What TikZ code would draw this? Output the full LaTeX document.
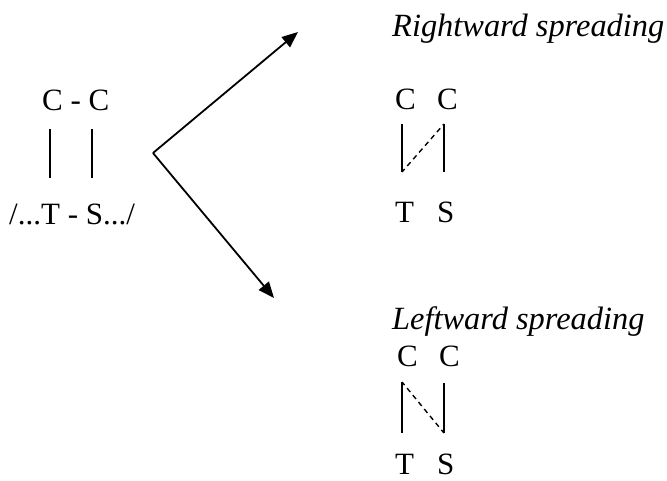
\documentclass[tikz,border=0pt]{standalone}
\usepackage{fontspec}
\setmainfont{Liberation Serif}
\usetikzlibrary{arrows.meta}
\begin{document}
\begin{tikzpicture}[x=1pt,y=-1pt,
  lbl/.style={anchor=base west,inner sep=0pt,font=\fontsize{31}{36}\selectfont},
  ilbl/.style={lbl,font=\fontsize{32.4}{36}\selectfont\itshape},
  bar/.style={line width=1.7pt},
  dbar/.style={line width=1.4pt,dash pattern=on 5pt off 4pt,dash phase=1pt},
  arr/.style={line width=1.8pt,-{Triangle[length=16pt,width=13pt]}}]
\useasboundingbox (0,0) rectangle (667,481);
% left source
\node[lbl] (cc) at (42,111) {C - C};
\node[lbl] (ts) at (9,225) {/...T - S.../};
\coordinate (l1t) at (50,129); \coordinate (l1b) at (50,178);
\coordinate (l2t) at (92,129); \coordinate (l2b) at (92,178);
\draw[bar] (l1t) -- (l1b);
\draw[bar] (l2t) -- (l2b);
% arrows
\coordinate (v) at (153,153);
\coordinate (tipU) at (298,32);
\coordinate (tipD) at (274,298);
\draw[arr] (v) -- (tipU);
\draw[arr] (v) -- (tipD);
% rightward spreading
\node[ilbl] (rs) at (392,37) {Rightward spreading};
\node[lbl] (rc1) at (395,110) {C};
\node[lbl] (rc2) at (437,110) {C};
\node[lbl] (rt) at (395,223) {T};
\node[lbl] (rsS) at (437,223) {S};
\coordinate (ra) at (402,124); \coordinate (rb) at (402,172);
\coordinate (rc) at (444,124); \coordinate (rd) at (444,172);
\draw[bar] (ra) -- (rb);
\draw[bar] (rc) -- (rd);
\draw[dbar] (rb) -- (rc);
% leftward spreading
\node[ilbl] (ls) at (392,330) {Leftward spreading};
\node[lbl] (lc1) at (397,366) {C};
\node[lbl] (lc2) at (439,366) {C};
\node[lbl] (lt) at (395,474) {T};
\node[lbl] (lsS) at (437,474) {S};
\coordinate (la) at (402,382); \coordinate (lb) at (402,433);
\coordinate (lc) at (444,383); \coordinate (ld) at (444,433);
\draw[bar] (la) -- (lb);
\draw[bar] (lc) -- (ld);
\draw[dbar] (la) -- (ld);
\end{tikzpicture}
\end{document}
